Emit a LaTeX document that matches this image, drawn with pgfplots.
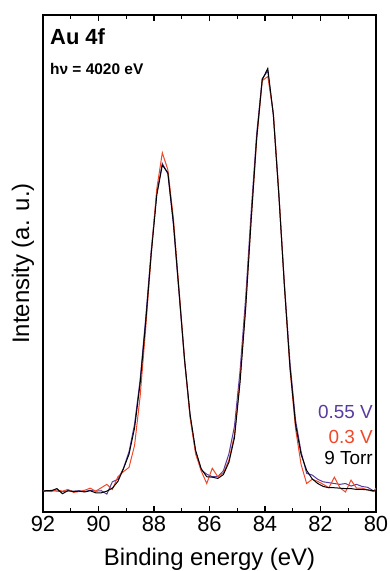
\documentclass[border=0pt]{standalone}
\usepackage{pgfplots}
\usepackage{pgfplotstable}
\pgfplotsset{compat=1.18}
\usepackage{fontspec}
\setmainfont{Liberation Sans}
\definecolor{cpurple}{RGB}{88,60,158}
\definecolor{cred}{RGB}{240,72,40}
\pgfplotstableread{
E purple red black
92.0 0.1 0.3 0.2
91.9 0.2 0.2 0.3
91.7 0.4 0.1 0.3
91.5 0.2 0.5 0.8
91.3 0.1 0.2 -0.4
91.1 0.3 0.6 0.3
90.9 0.2 -0.1 0.1
90.7 0.3 0.1 0.2
90.5 0.1 0.4 0.0
90.3 0.4 0.9 0.3
90.1 0.2 0.2 -0.2
89.9 0.3 1.0 -0.2
89.7 -0.5 1.8 0.2
89.5 2.4 0.6 0.9
89.3 3.0 3.6 2.5
89.1 5.6 4.8 5.5
88.9 9.5 5.8 8.9
88.7 16.0 11.0 15.1
88.5 26.5 22.5 25.6
88.3 41.0 38.5 40.0
88.1 57.0 56.0 56.2
87.9 70.5 71.5 70.0
87.7 77.5 80.0 77.1
87.5 75.0 76.0 75.3
87.3 63.0 64.5 63.5
87.1 47.0 48.0 47.5
86.9 31.0 31.5 31.3
86.7 18.0 17.5 18.3
86.5 9.5 9.0 9.8
86.3 5.2 5.0 5.5
86.1 4.2 2.0 3.6
85.9 3.6 5.6 3.5
85.7 3.6 3.6 3.2
85.5 5.0 4.5 4.1
85.3 9.0 7.5 7.0
85.1 15.5 13.5 12.8
84.9 28.5 26.5 25.8
84.7 45.5 43.5 43.0
84.5 66.0 64.0 64.0
84.3 84.5 83.0 83.5
84.1 97.5 97.0 97.2
83.9 99.3 98.0 99.9
83.7 89.0 89.5 89.0
83.5 70.0 70.5 70.0
83.3 49.0 48.5 48.5
83.1 30.5 29.0 29.5
82.9 17.0 15.0 16.0
82.7 9.5 6.5 8.9
82.5 4.4 2.0 5.1
82.3 4.0 3.0 3.1
82.1 3.0 2.5 2.0
81.9 2.4 1.8 1.3
81.7 2.2 1.0 1.0
81.5 2.0 3.5 1.0
81.3 1.8 1.0 0.9
81.1 2.0 0.0 0.8
80.9 1.4 2.8 0.8
80.7 1.8 0.9 0.6
80.5 1.3 0.9 0.6
80.3 1.1 0.5 0.5
80.1 0.3 0.1 0.3
80.0 0.2 0.9 0.2
}\datatable
\begin{document}
\begin{tikzpicture}
\begin{axis}[
  at={(0bp,0bp)}, anchor=south west,
  scale only axis, width=333bp, height=497bp,
  xmin=80, xmax=92, x dir=reverse,
  ymin=-4.72, ymax=112.5,
  xtick={80,82,...,92}, minor xtick={81,83,...,91},
  ytick=\empty,
  tick align=inside, xtick pos=both, xticklabel pos=lower,
  major tick length=6bp, minor tick length=4bp,
  tick style={line width=1.3bp, black},
  axis line style={line width=1.6bp},
  /pgf/number format/assume math mode=true,
  xticklabel style={font=\fontsize{22}{26}\selectfont, yshift=-1bp},
]
\addplot[cpurple, line width=1bp] table[x=E, y=purple] {\datatable};
\addplot[cred, line width=1bp] table[x=E, y=red] {\datatable};
\addplot[black, line width=1bp] table[x=E, y=black] {\datatable};
\end{axis}
\node[anchor=base west, font=\bfseries\fontsize{22}{26}\selectfont, inner sep=0pt] at (7bp,467bp) {Au 4f};
\node[anchor=base west, font=\bfseries\fontsize{15.5}{18}\selectfont, inner sep=0pt] at (7bp,437bp) {hν = 4020 eV};
\node[anchor=base east, font=\fontsize{19}{22}\selectfont, inner sep=0pt, text=cpurple] at (330bp,93.7bp) {0.55 V};
\node[anchor=base east, font=\fontsize{19}{22}\selectfont, inner sep=0pt, text=cred] at (330bp,68.7bp) {0.3 V};
\node[anchor=base east, font=\fontsize{19}{22}\selectfont, inner sep=0pt] at (330bp,47bp) {9 Torr};
\node[anchor=base, font=\fontsize{24}{28}\selectfont, inner sep=0pt] at (166.5bp,-53bp) {Binding energy (eV)};
\node[anchor=base, rotate=90, font=\fontsize{24}{28}\selectfont, inner sep=0pt] at (-14bp,248.5bp) {Intensity (a. u.)};
\pgfresetboundingbox
\path[use as bounding box] (-43bp,-59bp) rectangle (347bp,512bp);
\end{tikzpicture}
\end{document}
